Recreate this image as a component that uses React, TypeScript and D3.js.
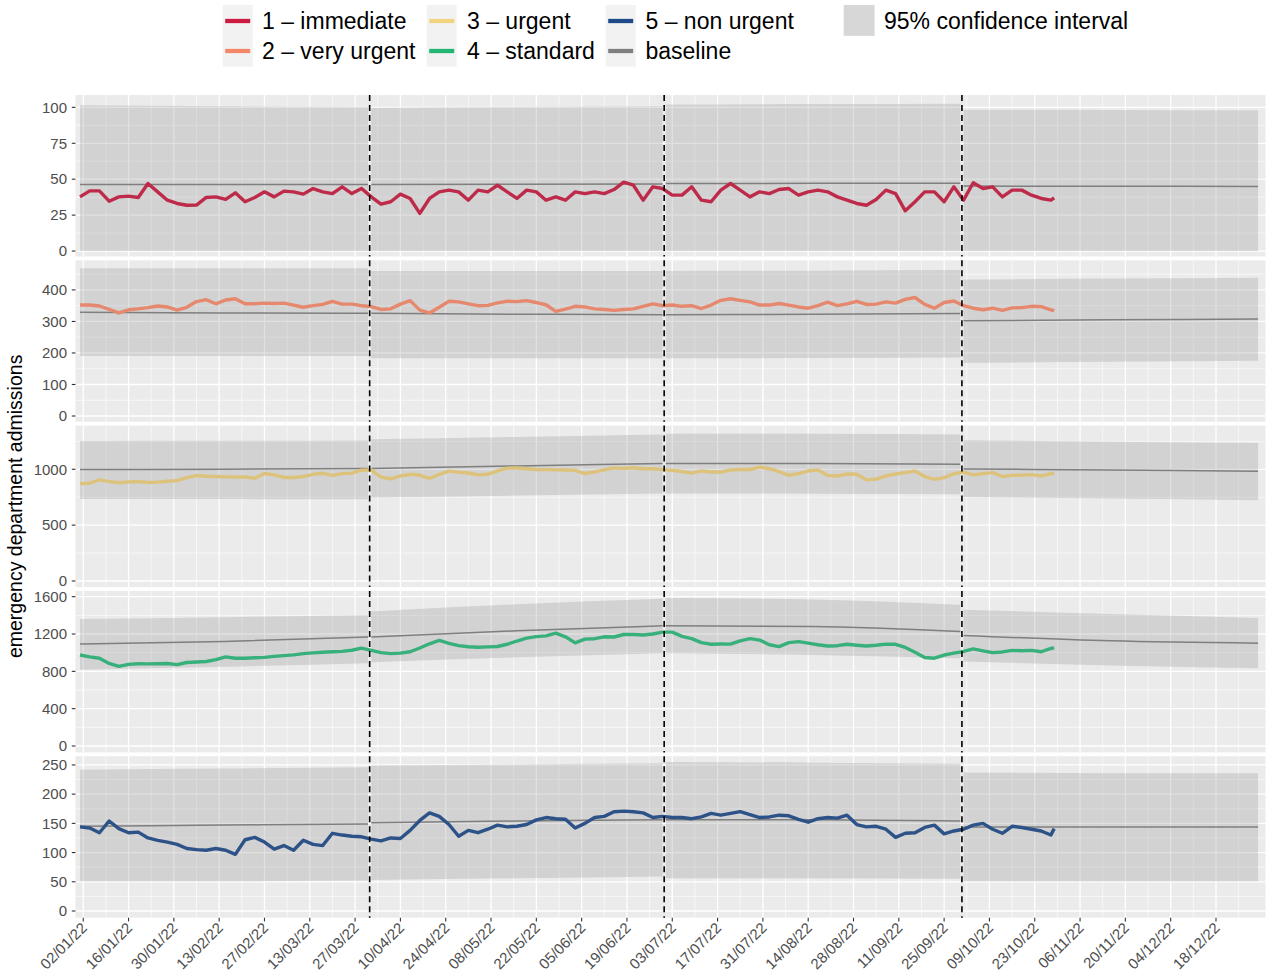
import React from 'react';
import * as d3 from 'd3';

// ---- data ----
const DAY = 86400000;
const START = Date.UTC(2022, 0, 1);
// sampled days (from 01/01/22): every third day, last point on 29/10/22
const seriesDays = d3.range(0, 301, 3).concat([301]);

const categories = ['1 – immediate', '2 – very urgent', '3 – urgent', '4 – standard', '5 – non urgent'];
const lineColors = ['#BE2B4A', '#E6886E', '#DCC27A', '#38B07B', '#2C5288'];
const keyColors = ['#CC1A41', '#F4866A', '#F2D480', '#23B574', '#1E4A8A'];
const baselineColor = '#7F7F7F';

const immediate = [
  37.7, 41.9, 41.9, 34.7, 37.7, 38.2, 37.3, 47, 41.2, 35.4,
  33.1, 31.9, 32, 37.3, 37.7, 35.9, 40.5, 34.3, 37.3, 41.2,
  37.7, 41.7, 41.2, 39.6, 43.5, 41.2, 40, 44.7, 40, 43.5,
  37.7, 32.6, 34.3, 39.6, 36.6, 26.2, 36.6, 41.2, 42.4, 41.2,
  35.4, 42.4, 41.2, 45.8, 41.2, 36.6, 42.4, 41.2, 35.4, 37.7,
  35.4, 41.2, 40, 41.2, 40, 42.8, 47.9, 45.8, 35.4, 44.7,
  43.5, 38.9, 38.9, 44.7, 35.4, 34.3, 42.4, 47, 42.4, 37.7,
  41.2, 40, 42.8, 43.5, 38.9, 41.2, 42.4, 41.2, 37.7, 35.4,
  33.1, 31.9, 35.9, 42.4, 40, 28, 34.3, 41.2, 41.2, 34.3,
  44.7, 35.4, 47.5, 43.5, 44.7, 37.7, 42.4, 42.4, 38.9, 36.6,
  35.4, 37,
];
const veryUrgent = [
  352, 352, 349, 338, 327, 337, 340, 344, 349, 346,
  336, 345, 363, 369, 356, 368, 372, 356, 356, 358,
  357, 358, 352, 345, 350, 354, 364, 355, 355, 350,
  347, 338, 340, 355, 366, 336, 327, 345, 364, 362,
  356, 350, 351, 359, 364, 363, 366, 360, 353, 332,
  339, 348, 346, 340, 338, 335, 338, 340, 348, 356,
  350, 352, 348, 350, 341, 352, 367, 372, 367, 362,
  352, 352, 357, 352, 346, 342, 350, 361, 350, 356,
  364, 354, 355, 362, 358, 370, 376, 354, 342, 360,
  365, 350, 342, 337, 342, 335, 343, 344, 348, 347,
  337, 334,
];
const urgent = [
  872, 875, 905, 890, 880, 887, 890, 882, 885, 893,
  898, 925, 944, 938, 935, 932, 930, 932, 920, 962,
  950, 927, 926, 935, 955, 964, 945, 961, 965, 992,
  995, 930, 915, 940, 955, 946, 918, 955, 983, 973,
  967, 950, 955, 985, 1010, 1012, 1005, 998, 997, 995,
  993, 990, 962, 976, 995, 1012, 1008, 1014, 1005, 1005,
  997, 990, 980, 965, 985, 976, 976, 993, 998, 998,
  1020, 1005, 980, 946, 962, 985, 995, 945, 940, 958,
  955, 905, 912, 940, 958, 970, 985, 935, 910, 925,
  960, 975, 950, 961, 970, 935, 946, 948, 952, 940,
  961, 963,
];
const standard = [
  975, 955, 940, 885, 853, 875, 882, 880, 881, 884,
  872, 895, 900, 905, 925, 955, 940, 941, 945, 950,
  960, 968, 977, 990, 998, 1005, 1010, 1014, 1026, 1048,
  1025, 1000, 990, 995, 1010, 1050, 1095, 1131, 1100, 1075,
  1064, 1058, 1062, 1066, 1090, 1125, 1156, 1172, 1180, 1210,
  1170, 1105, 1145, 1150, 1170, 1168, 1195, 1195, 1190, 1200,
  1220, 1220, 1175, 1150, 1108, 1090, 1093, 1092, 1127, 1150,
  1135, 1085, 1065, 1108, 1118, 1102, 1085, 1072, 1075, 1090,
  1080, 1072, 1080, 1092, 1090, 1056, 1005, 948, 941, 975,
  995, 1013, 1040, 1020, 1000, 1008, 1025, 1020, 1025, 1010,
  1045, 1052,
];
const nonUrgent = [
  144, 142, 134, 154, 141, 134, 135, 125, 121, 118,
  114, 107, 105, 104, 107, 104, 97, 122, 126, 118,
  106, 112, 104, 121, 114, 112, 133, 130, 128, 127,
  123, 120, 125, 124, 138, 155, 168, 162, 148, 128,
  138, 134, 140, 147, 144, 145, 148, 156, 160, 158,
  157, 142, 150, 160, 162, 170, 171, 170, 168, 160,
  162, 160, 160, 158, 161, 167, 164, 167, 170, 165,
  160, 161, 164, 163, 157, 152, 158, 160, 159, 164,
  148, 144, 145, 140, 126, 133, 134, 143, 147, 132,
  137, 140, 147, 150, 140, 133, 145, 143, 140, 137,
  130, 141,
];

// quarters: confidence band + baseline given at [start, middle, end] of each quarter
const quarterStarts = ['2022-01-01', '2022-04-01', '2022-07-01', '2022-10-01'];
const quarterEnds = ['2022-03-31', '2022-06-30', '2022-09-30', '2022-12-31'];

const immediateUpper = [[101.4, 100.8, 100.2], [99.8, 100.2, 100.7], [102, 102.3, 102.5], [98.4, 98.2, 97.9]];
const immediateLower = [[0, 0, 0], [0, 0, 0], [0, 0, 0], [0, 0, 0]];
const immediateBase = [[46.3, 46.3, 46.3], [46.3, 46.5, 46.7], [47, 47.1, 47.2], [45.2, 45.1, 45]];

const veryUrgentUpper = [[469, 469, 469], [460, 460, 460], [460, 461, 463], [433, 436, 439]];
const veryUrgentLower = [[190, 190, 190], [183, 183, 183], [183, 184, 186], [169, 172, 175]];
const veryUrgentBase = [[329, 327, 326], [326, 323, 321], [321, 323, 325], [302, 305, 308]];

const urgentUpper = [[1253, 1255, 1258], [1268, 1290, 1312], [1318, 1318, 1312], [1259, 1247, 1235]];
const urgentLower = [[735, 733, 732], [747, 765, 783], [783, 782, 777], [753, 738, 723]];
const urgentBase = [[997, 1001, 1006], [1006, 1030, 1051], [1051, 1051, 1045], [1003, 993, 982]];

const standardUpper = [[1360, 1380, 1400], [1442, 1520, 1578], [1586, 1570, 1514], [1460, 1414, 1371]];
const standardLower = [[816, 850, 888], [898, 950, 995], [995, 975, 941], [906, 863, 834]];
const standardBase = [[1092, 1120, 1167], [1167, 1235, 1288], [1288, 1281, 1228], [1185, 1127, 1102]];

const nonUrgentUpper = [[242, 244, 246], [249, 251, 253], [255, 254, 252], [237, 236, 236]];
const nonUrgentLower = [[51, 51, 52], [53, 56, 59], [56, 56, 55], [51, 51, 51]];
const nonUrgentBase = [[145, 147, 149], [151, 154, 156], [156, 156, 154], [144, 144, 144]];

const yTicks = [
  [0, 25, 50, 75, 100],
  [0, 100, 200, 300, 400],
  [0, 500, 1000],
  [0, 400, 800, 1200, 1600],
  [0, 50, 100, 150, 200, 250],
];
const yDomains = [[-3.8, 108.6], [-18.4, 494], [-54.6, 1391], [-68.6, 1662], [-11.5, 265]];

const changeDates = ['2022-04-01', '2022-07-01', '2022-10-01'];

// ---- layout ----
const W = 1270;
const H = 974;
const PANEL_LEFT = 75.5;
const PANEL_RIGHT = 1265.5;
const PANEL_TOP = 95;
const PANEL_H = 161.5;
const PANEL_STEP = 165.3;
const FONT = "'Liberation Sans', Arial, Helvetica, sans-serif";

const parse = (s: string) => new Date(s + 'T00:00:00Z');

const panels = [
  { values: immediate, upper: immediateUpper, lower: immediateLower, base: immediateBase },
  { values: veryUrgent, upper: veryUrgentUpper, lower: veryUrgentLower, base: veryUrgentBase },
  { values: urgent, upper: urgentUpper, lower: urgentLower, base: urgentBase },
  { values: standard, upper: standardUpper, lower: standardLower, base: standardBase },
  { values: nonUrgent, upper: nonUrgentUpper, lower: nonUrgentLower, base: nonUrgentBase },
];

const x = d3.scaleUtc()
  .domain([new Date(START - 1.39 * DAY), new Date(START + 366.3 * DAY)])
  .range([PANEL_LEFT, PANEL_RIGHT]);

const xTicks = d3.utcDay.range(parse('2022-01-02'), parse('2022-12-31'), 14);
const xMinor = d3.utcDay.range(parse('2022-01-09'), parse('2023-01-01'), 14);
const fmt = d3.utcFormat('%d/%m/%y');

const quarterDates = quarterStarts.map((s, q) => {
  const a = parse(s);
  const b = parse(quarterEnds[q]);
  return [a, new Date((+a + +b) / 2), b];
});

function Panel({ idx }: { idx: number }) {
  const p = panels[idx];
  const top = PANEL_TOP + idx * PANEL_STEP;
  const bottom = top + PANEL_H;
  const y = d3.scaleLinear().domain(yDomains[idx]).range([bottom, top]);
  const ticks = yTicks[idx];
  const step = ticks[1] - ticks[0];
  const minor = d3.range(ticks[0] - step / 2, yDomains[idx][1], step)
    .filter(v => v > yDomains[idx][0] && v < yDomains[idx][1]);

  const band = d3.area<[Date, number, number]>()
    .x(d => x(d[0]))
    .y0(d => y(d[1]))
    .y1(d => y(d[2]))
    .curve(d3.curveMonotoneX);
  const line = d3.line<[Date, number]>()
    .x(d => x(d[0]))
    .y(d => y(d[1]))
    .curve(d3.curveMonotoneX);
  const series = d3.line<number>()
    .x((_, i) => x(new Date(START + seriesDays[i] * DAY)))
    .y(d => y(d));

  return (
    <g>
      <rect x={PANEL_LEFT} y={top} width={PANEL_RIGHT - PANEL_LEFT} height={PANEL_H} fill="#EBEBEB" />
      {minor.map(v => (
        <line key={'hm' + v} x1={PANEL_LEFT} x2={PANEL_RIGHT} y1={y(v)} y2={y(v)} stroke="#fff" strokeWidth={0.6} />
      ))}
      {xMinor.map(d => (
        <line key={'vm' + +d} x1={x(d)} x2={x(d)} y1={top} y2={bottom} stroke="#fff" strokeWidth={0.6} />
      ))}
      {ticks.map(v => (
        <line key={'h' + v} x1={PANEL_LEFT} x2={PANEL_RIGHT} y1={y(v)} y2={y(v)} stroke="#fff" strokeWidth={1.3} />
      ))}
      {xTicks.map(d => (
        <line key={'v' + +d} x1={x(d)} x2={x(d)} y1={top} y2={bottom} stroke="#fff" strokeWidth={1.3} />
      ))}
      {quarterDates.map((qd, q) => (
        <path key={'b' + q}
          d={band(qd.map((d, k) => [d, p.lower[q][k], p.upper[q][k]] as [Date, number, number])) || ''}
          fill="#808080" fillOpacity={0.24} />
      ))}
      {quarterDates.map((qd, q) => (
        <path key={'l' + q}
          d={line(qd.map((d, k) => [d, p.base[q][k]] as [Date, number])) || ''}
          fill="none" stroke={baselineColor} strokeWidth={1.5} />
      ))}
      <path d={series(p.values) || ''} fill="none" stroke={lineColors[idx]} strokeWidth={3.4} strokeLinejoin="round" />
      {changeDates.map(s => {
        const cx = x(new Date(+parse(s) - DAY / 2));
        return <line key={s} x1={cx} x2={cx} y1={top} y2={bottom} stroke="#000" strokeWidth={1.6} strokeDasharray="6 4" />;
      })}
      {ticks.map(v => (
        <g key={'t' + v}>
          <line x1={PANEL_LEFT - 3.7} x2={PANEL_LEFT} y1={y(v)} y2={y(v)} stroke="#333" strokeWidth={1.1} />
          <text x={PANEL_LEFT - 8.5} y={y(v)} dy="0.35em" textAnchor="end" fontSize={15} fill="#4D4D4D">{v}</text>
        </g>
      ))}
    </g>
  );
}

function Legend() {
  const cols = [
    { kx: 222.7, tx: 262, items: [{ c: keyColors[0], t: categories[0] }, { c: keyColors[1], t: categories[1] }] },
    { kx: 426.7, tx: 467, items: [{ c: keyColors[2], t: categories[2] }, { c: keyColors[3], t: categories[3] }] },
    { kx: 605.7, tx: 645.5, items: [{ c: keyColors[4], t: categories[4] }, { c: baselineColor, t: 'baseline' }] },
  ];
  const rows = [21, 51];
  return (
    <g fontSize={23}>
      {cols.map((col, ci) => (
        <g key={ci}>
          <rect x={col.kx} y={5} width={30} height={61.7} fill="#F2F2F2" />
          {col.items.map((it, ri) => (
            <g key={ri}>
              <line x1={col.kx + 2.5} x2={col.kx + 27.5} y1={rows[ri]} y2={rows[ri]} stroke={it.c} strokeWidth={4.3} />
              <text x={col.tx} y={rows[ri]} dy="0.35em" fill="#000">{it.t}</text>
            </g>
          ))}
        </g>
      ))}
      <rect x={843.7} y={5} width={30.8} height={30.8} fill="#F2F2F2" />
      <rect x={843.7} y={5} width={30.8} height={30.8} fill="#808080" fillOpacity={0.24} />
      <text x={884} y={rows[0]} dy="0.35em" fill="#000">95% confidence interval</text>
    </g>
  );
}

export default function App() {
  const axisY = PANEL_TOP + 4 * PANEL_STEP + PANEL_H;
  return (
    <svg width={W} height={H} style={{ position: 'absolute', left: 0, top: 0, background: '#fff' }} fontFamily={FONT}>
      <rect width={W} height={H} fill="#fff" />
      <Legend />
      {panels.map((_, i) => <Panel key={i} idx={i} />)}
      {xTicks.map(d => (
        <g key={+d}>
          <line x1={x(d)} x2={x(d)} y1={axisY} y2={axisY + 3.7} stroke="#333" strokeWidth={1.1} />
          <text transform={`translate(${x(d) - 3},${axisY + 3.5}) rotate(-45)`} dy="0.72em" textAnchor="end"
            fontSize={15} fill="#4D4D4D">{fmt(d)}</text>
        </g>
      ))}
      <text transform={`translate(22,${(PANEL_TOP + axisY) / 2}) rotate(-90)`} textAnchor="middle" fontSize={19.5} fill="#000">
        emergency department admissions
      </text>
    </svg>
  );
}
